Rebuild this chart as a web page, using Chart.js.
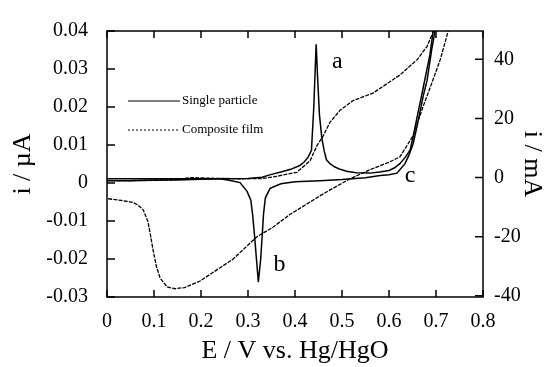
<!DOCTYPE html>
<html>
<head>
<meta charset="utf-8">
<script src="https://cdn.jsdelivr.net/npm/chart.js@4.4.0/dist/chart.umd.min.js"></script>
<style>body{margin:0;background:#fff}</style>
</head>
<body>
<canvas id="cv" width="550" height="367"></canvas>
<script>
// single particle, anodic sweep (E / V, i / uA)
var spFwdE = [0, 0.05, 0.1, 0.15, 0.2, 0.25, 0.3, 0.33, 0.348, 0.37, 0.391, 0.41, 0.42, 0.428, 0.435, 0.44, 0.443, 0.445, 0.448, 0.452, 0.457, 0.462, 0.467, 0.475, 0.485, 0.496, 0.51, 0.53, 0.56, 0.58, 0.6, 0.612, 0.623, 0.635, 0.645, 0.652, 0.659, 0.666, 0.673, 0.68, 0.687, 0.694, 0.701];
var spFwdI = [0.0006, 0.0006, 0.0007, 0.0008, 0.0010, 0.0011, 0.0012, 0.0015, 0.0022, 0.0029, 0.0036, 0.0046, 0.0056, 0.0068, 0.0086, 0.0200, 0.0300, 0.0365, 0.0280, 0.0180, 0.0119, 0.0085, 0.0061, 0.0050, 0.0042, 0.0036, 0.0031, 0.0027, 0.0026, 0.0029, 0.0033, 0.0040, 0.0051, 0.0068, 0.0087, 0.0125, 0.0169, 0.0210, 0.0252, 0.0295, 0.0337, 0.0400, 0.0460];
// single particle, cathodic sweep
var spRevE = [0.703, 0.698, 0.691, 0.681, 0.673, 0.666, 0.658, 0.651, 0.642, 0.634, 0.617, 0.6, 0.581, 0.55, 0.5, 0.453, 0.4, 0.37, 0.347, 0.337, 0.333, 0.331, 0.327, 0.322, 0.318, 0.314, 0.31, 0.306, 0.298, 0.283, 0.26, 0.24, 0.2, 0.1, 0];
var spRevI = [0.046, 0.0400, 0.0352, 0.0270, 0.0230, 0.0187, 0.0140, 0.0102, 0.0072, 0.0051, 0.0026, 0.0022, 0.0020, 0.0014, 0.0009, 0.0006, 0.0003, -0.0002, -0.0014, -0.0039, -0.0082, -0.0123, -0.0200, -0.0261, -0.0200, -0.0140, -0.0085, -0.0045, -0.0022, 0.0001, 0.0007, 0.0011, 0.0011, 0.0011, 0.0011];
// composite film, anodic sweep (E / V, i / mA)
var cfFwdE = [0, 0.05, 0.1, 0.15, 0.18, 0.22, 0.28, 0.33, 0.36, 0.404, 0.432, 0.447, 0.46, 0.474, 0.496, 0.523, 0.566, 0.581, 0.623, 0.66, 0.681, 0.694, 0.698];
var cfFwdI = [-1.0, -1.0, -0.8, -0.6, 0.0, -0.2, -0.4, -0.3, 0.4, 1.8, 5.7, 10.9, 14.1, 18.6, 22.8, 26.0, 28.6, 30.2, 34.7, 39.9, 44.4, 49.3, 52.0];
// composite film, cathodic sweep
var cfRevE = [0.745, 0.726, 0.709, 0.687, 0.672, 0.651, 0.635, 0.623, 0.6, 0.56, 0.517, 0.46, 0.389, 0.353, 0.319, 0.268, 0.198, 0.165, 0.145, 0.128, 0.113, 0.105, 0.098, 0.092, 0.087, 0.077, 0.066, 0.055, 0.03, 0];
var cfRevI = [53.0, 49.6, 39.9, 30.2, 23.8, 14.1, 10.0, 7.0, 5.2, 2.7, -0.4, -5.5, -12.5, -16.8, -20.0, -27.6, -35.0, -37.2, -37.6, -37.0, -34.0, -30.0, -24.5, -19.0, -14.8, -10.9, -9.3, -8.4, -7.7, -7.1];

var peakNames = ['a', 'b', 'c'];
var peakE = [0.49, 0.367, 0.645];
var peakI = [0.032, -0.0215, 0.002];

var seriesNames = ['Single particle', 'Composite film'];

function pts(xs, ys) {
  return xs.map(function (x, i) { return {x: x, y: ys[i]}; });
}

var serif = "'Liberation Serif', 'DejaVu Serif', serif";

var framePlugin = {
  id: 'frame',
  afterDraw: function (chart) {
    var c = chart.ctx, a = chart.chartArea;
    var sx = chart.scales.x, sy = chart.scales.y, sy2 = chart.scales.y2;
    c.save();
    c.strokeStyle = '#000';
    c.lineWidth = 1.5;
    c.strokeRect(a.left, a.top, a.right - a.left, a.bottom - a.top);
    c.beginPath();
    sx.ticks.forEach(function (t) {
      var p = sx.getPixelForValue(t.value);
      c.moveTo(p, a.bottom); c.lineTo(p, a.bottom - 7);
      c.moveTo(p, a.top); c.lineTo(p, a.top + 7);
    });
    sy.ticks.forEach(function (t) {
      var p = sy.getPixelForValue(t.value);
      c.moveTo(a.left, p); c.lineTo(a.left + 8, p);
    });
    sy2.ticks.forEach(function (t) {
      var p = sy2.getPixelForValue(t.value);
      c.moveTo(a.right, p); c.lineTo(a.right - 8, p);
    });
    c.stroke();

    // legend
    var lx = a.left + 21;
    c.lineWidth = 1.2;
    c.beginPath(); c.moveTo(lx, a.top + 70); c.lineTo(lx + 52, a.top + 70); c.stroke();
    c.setLineDash([2, 2]);
    c.beginPath(); c.moveTo(lx, a.top + 99); c.lineTo(lx + 50, a.top + 99); c.stroke();
    c.setLineDash([]);
    c.fillStyle = '#000';
    c.font = '13px ' + serif;
    c.textBaseline = 'middle';
    c.fillText(seriesNames[0], lx + 54, a.top + 70);
    c.fillText(seriesNames[1], lx + 54, a.top + 99);

    // peak labels
    c.font = '24px ' + serif;
    c.textAlign = 'center';
    peakNames.forEach(function (n, i) {
      c.fillText(n, sx.getPixelForValue(peakE[i]), sy.getPixelForValue(peakI[i]));
    });
    c.restore();
  }
};

new Chart(document.getElementById('cv').getContext('2d'), {
  type: 'line',
  data: {
    datasets: [
      {label: seriesNames[0], data: pts(spFwdE, spFwdI), yAxisID: 'y', borderColor: '#000', borderWidth: 1.5, pointRadius: 0, tension: 0},
      {label: seriesNames[0], data: pts(spRevE, spRevI), yAxisID: 'y', borderColor: '#000', borderWidth: 1.5, pointRadius: 0, tension: 0},
      {label: seriesNames[1], data: pts(cfFwdE, cfFwdI), yAxisID: 'y2', borderColor: '#000', borderWidth: 1.3, borderDash: [4, 1.2], pointRadius: 0, tension: 0},
      {label: seriesNames[1], data: pts(cfRevE, cfRevI), yAxisID: 'y2', borderColor: '#000', borderWidth: 1.3, borderDash: [4, 1.2], pointRadius: 0, tension: 0}
    ]
  },
  options: {
    responsive: false,
    animation: false,
    layout: {padding: {top: 18, left: 0, right: 0, bottom: 0}},
    plugins: {legend: {display: false}, tooltip: {enabled: false}},
    scales: {
      x: {
        type: 'linear', min: 0, max: 0.8,
        grid: {display: false, drawTicks: false}, border: {display: false},
        ticks: {stepSize: 0.1, autoSkip: false, maxRotation: 0, padding: 13, color: '#000', font: {family: serif, size: 20},
          callback: function (v) { return v === 0 ? '0' : v.toFixed(1); }},
        title: {display: true, text: 'E / V vs. Hg/HgO', color: '#000', font: {family: serif, size: 26}, padding: 0},
        afterFit: function (s) { s.height = 70; }
      },
      y: {
        position: 'left', min: -0.03, max: 0.04,
        grid: {display: false, drawTicks: false}, border: {display: false},
        ticks: {stepSize: 0.01, padding: 19, color: '#000', font: {family: serif, size: 20},
          callback: function (v) { return Math.abs(v) < 1e-9 ? '0' : v.toFixed(2); }},
        title: {display: true, text: 'i / µA', color: '#000', font: {family: serif, size: 26}, padding: 8},
        afterFit: function (s) { s.width = 107; }
      },
      y2: {
        position: 'right', min: -40.4, max: 49.6,
        grid: {display: false, drawTicks: false}, border: {display: false},
        ticks: {stepSize: 20, includeBounds: false, padding: 11, color: '#000', font: {family: serif, size: 20}},
        title: {display: true, text: 'i / mA', color: '#000', font: {family: serif, size: 26}, padding: 3},
        afterFit: function (s) { s.width = 67; }
      }
    }
  },
  plugins: [framePlugin]
});
</script>
</body>
</html>
